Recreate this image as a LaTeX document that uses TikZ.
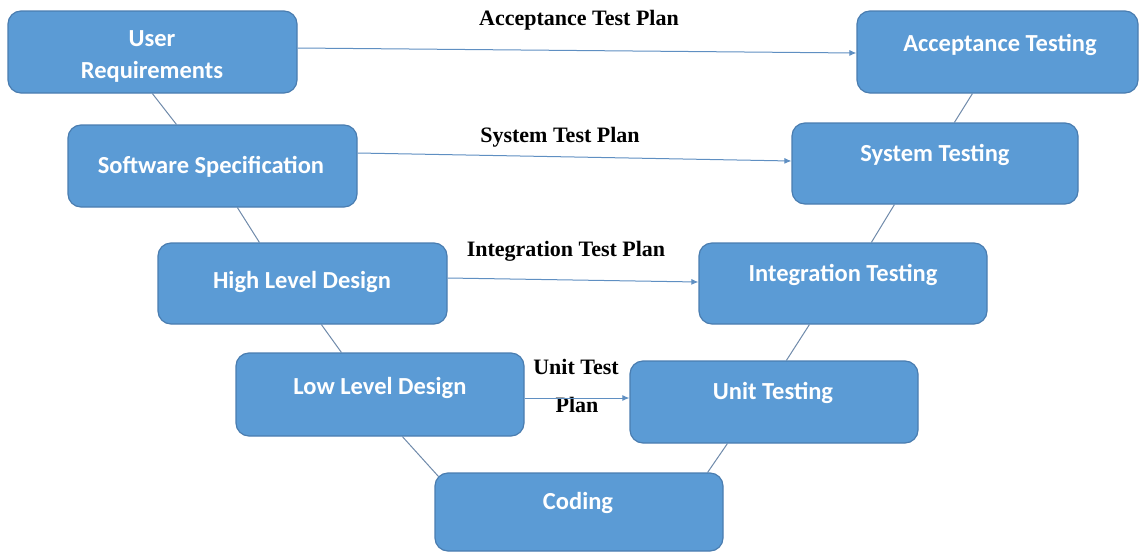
\documentclass[tikz,border=0pt]{standalone}
\usepackage{fontspec}
\setmainfont{Liberation Serif}
\newfontfamily\boxfont{Carlito}
\usetikzlibrary{arrows.meta,backgrounds}
\definecolor{boxfill}{HTML}{5B9BD5}
\definecolor{boxedge}{HTML}{4A7DB0}
\definecolor{linkcol}{HTML}{6F8AAA}
\definecolor{arrowcol}{HTML}{5F8FC2}
\tikzset{
  box/.style={draw=boxedge, line width=1.2pt, fill=boxfill, rounded corners=13pt, inner sep=0pt},
  boxtext/.style={text=white, font=\boxfont\bfseries\fontsize{24.5}{32}\selectfont, align=center, inner sep=0pt},
  plan/.style={font=\bfseries\fontsize{22}{24}\selectfont, inner sep=0pt},
  link/.style={draw=linkcol, line width=1pt},
  planarrow/.style={draw=arrowcol, line width=1pt, -{Latex[length=7pt,width=6pt]}}
}
\begin{document}
\begin{tikzpicture}[x=1pt,y=-1pt]
\useasboundingbox (0,0) rectangle (1141,552);
% boxes
\node[box, minimum width=289pt, minimum height=82pt] (ur) at (152.5,52) {};
\node[box, minimum width=281pt, minimum height=82pt] (at) at (997.5,52) {};
\node[box, minimum width=289pt, minimum height=82pt] (ss) at (212.5,166) {};
\node[box, minimum width=286pt, minimum height=81pt] (st) at (935,163.5) {};
\node[box, minimum width=289pt, minimum height=81pt] (hld) at (302.5,283.5) {};
\node[box, minimum width=288pt, minimum height=81pt] (it) at (843,283.5) {};
\node[box, minimum width=288pt, minimum height=83pt] (lld) at (380,394.5) {};
\node[box, minimum width=288pt, minimum height=82pt] (ut) at (774,402) {};
\node[box, minimum width=288pt, minimum height=78pt] (cd) at (579,512) {};
% box texts
\node[boxtext] (urt) at (152,56) {User\\Requirements};
\node[boxtext] (att) at (1000,45) {Acceptance Testing};
\node[boxtext] (sst) at (211,167) {Software Specification};
\node[boxtext] (stt) at (935,155) {System Testing};
\node[boxtext] (hldt) at (302,282) {High Level Design};
\node[boxtext] (itt) at (843,275) {Integration Testing};
\node[boxtext] (lldt) at (380,388) {Low Level Design};
\node[boxtext] (utt) at (773,393) {Unit Testing};
\node[boxtext] (cdt) at (578,503) {Coding};
% plan labels
\node[plan] (lat) at (579,20) {Acceptance Test Plan};
\node[plan] (lst) at (560,137) {System Test Plan};
\node[plan] (lit) at (566,251) {Integration Test Plan};
\node[plan] (lut1) at (576,367) {Unit Test};
\node[plan] (lut2) at (577,405) {Plan};
\begin{pgfonlayer}{background}
% V connectors
\draw[link] ([xshift=145pt]ur.south west) -- ([xshift=109pt]ss.north west);
\draw[link] ([xshift=170pt]ss.south west) -- ([xshift=102pt]hld.north west);
\draw[link] ([xshift=164pt]hld.south west) -- ([xshift=106pt]lld.north west);
\draw[link] ([xshift=167pt]lld.south west) -- ([xshift=4pt,yshift=-4pt]cd.north west);
\draw[link] ([xshift=-16pt]cd.north east) -- ([xshift=98pt]ut.south west);
\draw[link] ([xshift=157pt]ut.north west) -- ([xshift=111pt]it.south west);
\draw[link] ([xshift=173pt]it.north west) -- ([xshift=103pt]st.south west);
\draw[link] ([xshift=163pt]st.north west) -- ([xshift=116pt]at.south west);
\end{pgfonlayer}
% test plan arrows
\draw[planarrow] ([yshift=4pt]ur.east) -- ([yshift=-1pt]at.west);
\draw[planarrow] ([yshift=13pt]ss.east) -- ([yshift=2.5pt]st.west);
\draw[planarrow] ([yshift=5.5pt]hld.east) -- ([yshift=1.5pt]it.west);
\draw[planarrow] ([yshift=-3.5pt]lld.east) -- ([yshift=4pt]ut.west);
\end{tikzpicture}
\end{document}
